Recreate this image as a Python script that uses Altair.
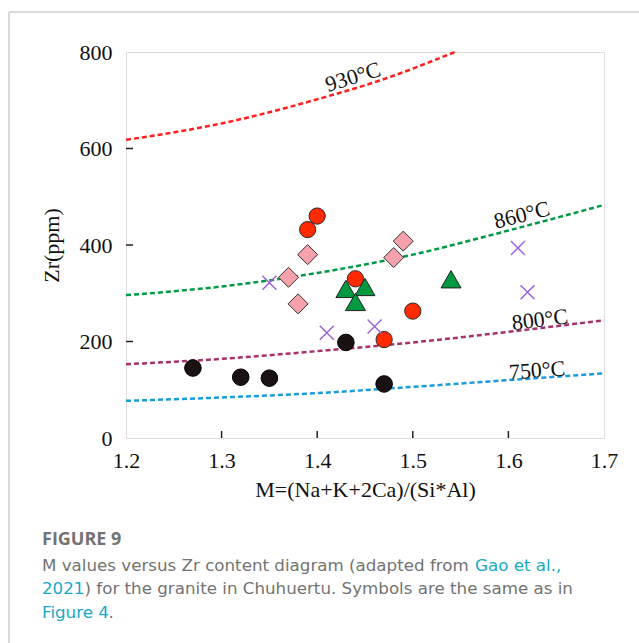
import altair as alt
import pandas as pd

# ---- data ----
x_ticks = [1.2, 1.3, 1.4, 1.5, 1.6, 1.7]
y_ticks = [0, 200, 400, 600, 800]

# isotherm curves (M, Zr)
c930_m = [1.2, 1.3, 1.4, 1.47, 1.544]
c930_zr = [618, 652, 702, 744, 800]
c860_m = [1.2, 1.3, 1.4, 1.5, 1.6, 1.7]
c860_zr = [296, 314, 342, 380, 430, 483]
c800_m = [1.2, 1.3, 1.4, 1.5, 1.6, 1.7]
c800_zr = [153, 164, 180, 198, 220, 244]
c750_m = [1.2, 1.3, 1.4, 1.5, 1.6, 1.7]
c750_zr = [77, 84, 93, 106, 120, 134]

curve_names = ["930°C", "860°C", "800°C", "750°C"]
curve_colors = ["#FF2020", "#009944", "#A8326B", "#1A9BDB"]
label_m = [1.4375, 1.614, 1.633, 1.630]
label_zr = [748, 462, 245, 140]
label_angle = [343, 346, 353, 356]

# samples
black_m = [1.27, 1.32, 1.35, 1.43, 1.47]
black_zr = [145, 126, 124, 198, 112]
red_m = [1.39, 1.40, 1.44, 1.50, 1.47]
red_zr = [432, 460, 330, 263, 204]
pink_m = [1.39, 1.37, 1.38, 1.49, 1.48]
pink_zr = [380, 333, 278, 408, 374]
green_m = [1.43, 1.45, 1.44, 1.54]
green_zr = [309, 313, 282, 329]
cross_m = [1.35, 1.41, 1.46, 1.61, 1.62]
cross_zr = [322, 218, 231, 394, 302]

W, H = 478, 386
SERIF = "Liberation Serif"
CAPFONT = "DejaVu Sans"
GRAY = "#737373"
CYAN = "#19A9C4"

xs = alt.Scale(domain=[1.2, 1.7], nice=False, zero=False)
ys = alt.Scale(domain=[0, 800], nice=False, zero=False)
ax_x = alt.Axis(values=x_ticks, format=".1f", title="M=(Na+K+2Ca)/(Si*Al)",
                grid=False, ticks=False, tickSize=0, domain=False, labelFlush=False,
                labelFont=SERIF, labelFontSize=22, labelColor="#111",
                labelPadding=12, titleFont=SERIF, titleFontSize=22,
                titleFontWeight="normal", titleColor="#111", titlePadding=8)
ax_y = alt.Axis(values=y_ticks, title="Zr(ppm)", grid=False, ticks=False,
                tickSize=0, domain=False, labelFlush=False, labelFont=SERIF,
                labelFontSize=22, labelColor="#111", labelPadding=14,
                titleFont=SERIF, titleFontSize=22, titleFontWeight="normal",
                titleColor="#111", titlePadding=16)


def X(field="M"):
    return alt.X(f"{field}:Q", scale=xs, axis=ax_x)


def Y(field="Zr"):
    return alt.Y(f"{field}:Q", scale=ys, axis=ax_y)


rows = []
for name, ms, zs in zip(curve_names, [c930_m, c860_m, c800_m, c750_m],
                        [c930_zr, c860_zr, c800_zr, c750_zr]):
    for i, (m, z) in enumerate(zip(ms, zs)):
        rows.append({"curve": name, "M": m, "Zr": z, "o": i})
curves_df = pd.DataFrame(rows)

lines = alt.Chart(curves_df).mark_line(
    strokeDash=[5, 3], strokeWidth=2.5, interpolate="monotone"
).encode(
    x=X(), y=Y(),
    color=alt.Color("curve:N", scale=alt.Scale(domain=curve_names, range=curve_colors), legend=None),
    order="o:Q",
)

labels_df = pd.DataFrame({"M": label_m, "Zr": label_zr, "t": curve_names, "a": label_angle})
labels = []
for i in range(4):
    labels.append(
        alt.Chart(labels_df.iloc[[i]]).mark_text(
            font=SERIF, fontSize=22, color="#111", angle=label_angle[i],
            align="center", baseline="middle"
        ).encode(x=X(), y=Y(), text="t:N")
    )


def pts(ms, zs, **kw):
    return alt.Chart(pd.DataFrame({"M": ms, "Zr": zs})).mark_point(**kw).encode(x=X(), y=Y())


black = pts(black_m, black_zr, shape="circle", filled=True, size=275,
            fill="#1A1212", stroke="#000", strokeWidth=1, opacity=1)
red = pts(red_m, red_zr, shape="circle", filled=True, size=265,
          fill="#FF2A00", stroke="#2a2a2a", strokeWidth=1, opacity=1)
pink = pts(pink_m, pink_zr, shape="diamond", filled=True, size=400,
           fill="#F7A1AA", stroke="#333", strokeWidth=1, opacity=1)
green = pts(green_m, green_zr, shape="triangle-up", filled=True, size=400,
            fill="#009940", stroke="#222", strokeWidth=1, opacity=1)
cross = pts(cross_m, cross_zr, shape="M-1,-1L1,1M-1,1L1,-1", filled=False, size=196,
            stroke="#9B5FD6", strokeWidth=1.4, opacity=1)

# inward ticks
ytick_df = pd.DataFrame({"Zr": [200, 400, 600]})
yticks = alt.Chart(ytick_df).mark_rule(color="#222", strokeWidth=1.5).encode(
    y=Y(), x=alt.value(0), x2=alt.value(7))
xtick_df = pd.DataFrame({"M": [1.3, 1.4, 1.5, 1.6]})
xticks = alt.Chart(xtick_df).mark_rule(color="#222", strokeWidth=1.5).encode(
    x=X(), y=alt.value(H), y2=alt.value(H - 7))

one = pd.DataFrame({"k": [0]})
card_top = alt.Chart(one).mark_rule(color="#DADADA", strokeWidth=2).encode(
    x=alt.value(-117), x2=alt.value(520), y=alt.value(-40))
card_left = alt.Chart(one).mark_rule(color="#DADADA", strokeWidth=2).encode(
    x=alt.value(-117), y=alt.value(-40), y2=alt.value(600))


def cap(text, x, y, color, bold=False, size=16.7, font=CAPFONT):
    return alt.Chart(pd.DataFrame({"t": [text]})).mark_text(
        font=font, fontSize=size, color=color, align="left", baseline="middle",
        fontWeight="bold" if bold else "normal"
    ).encode(x=alt.value(x), y=alt.value(y), text="t:N")


caption = [
    cap("FIGURE 9", -84, 488, GRAY, bold=True, size=18, font="Open Sans"),
    cap("M values versus Zr content diagram (adapted from", -84, 514, GRAY),
    cap("Gao et al.,", 349, 514, CYAN),
    cap("2021", -84, 537, CYAN),
    cap(") for the granite in Chuhuertu. Symbols are the same as in", -41.5, 537, GRAY),
    cap("Figure 4", -84, 561, CYAN),
    cap(".", -17.5, 561, GRAY),
]

chart = alt.layer(
    card_top, card_left, lines, *labels, yticks, xticks,
    black, red, green, pink, cross, *caption
).properties(
    width=W, height=H,
    padding={"left": 126, "top": 52, "right": 35, "bottom": 205},
    autosize=alt.AutoSizeParams(type="none"),
).configure_view(stroke="#222", strokeWidth=2).configure(background="white")

chart.save("out.html", embed_options={"renderer": "svg", "actions": False})
